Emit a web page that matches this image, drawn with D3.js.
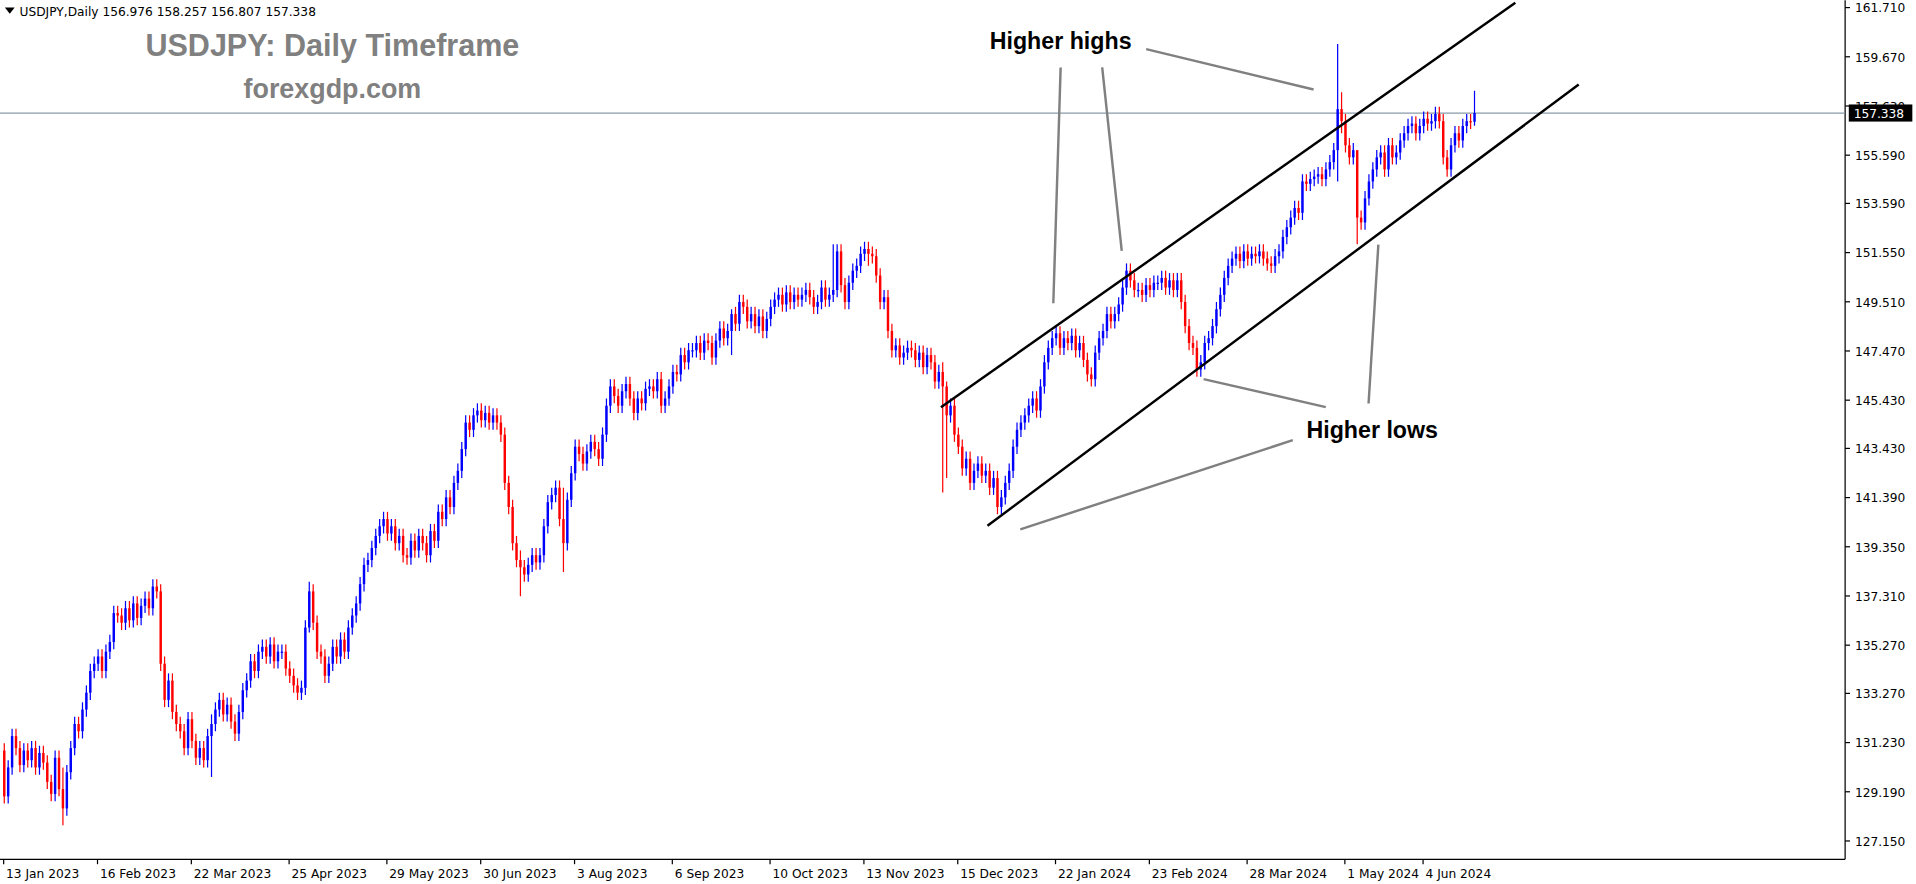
<!DOCTYPE html>
<html><head><meta charset="utf-8">
<script src="https://cdn.jsdelivr.net/npm/d3@7"></script>
<style>body{margin:0;background:#fff;overflow:hidden}</style>
</head><body><div id="chart"></div>
<script>
// daily closes, 13 Jan 2023 .. mid Jun 2024
var closes = [
129.0,130.2,131.5,131.0,130.3,130.9,130.5,131.0,130.2,130.8,
130.4,129.6,129.1,130.6,129.3,128.5,130.0,131.0,132.0,131.7,
132.6,133.3,134.2,134.5,134.8,134.2,135.0,135.4,136.6,136.5,
136.2,136.8,136.3,137.0,136.4,136.9,137.2,136.8,137.7,137.5,
134.5,133.0,133.8,132.5,132.0,131.7,131.0,132.2,131.3,130.6,
131.0,130.5,131.5,132.0,132.6,133.0,132.4,132.8,132.1,131.6,
132.5,133.4,133.8,134.6,134.2,135.0,135.2,134.8,135.3,134.6,
135.0,135.0,134.3,134.0,133.6,133.3,133.5,136.0,137.5,136.2,
135.0,134.8,134.0,134.5,135.2,134.8,135.5,135.0,136.0,136.5,
137.0,137.8,138.6,138.8,139.3,139.8,140.2,140.5,139.9,140.2,
139.5,139.8,139.0,138.9,139.6,139.2,139.8,139.5,139.0,140.0,
139.6,140.8,140.5,141.4,141.0,142.0,142.5,143.4,144.5,144.2,
144.8,145.0,144.6,144.9,144.5,144.8,144.5,144.0,142.0,141.0,
139.5,138.8,138.5,138.2,138.6,139.0,138.7,139.0,140.2,141.2,
141.5,141.8,140.5,139.5,141.3,142.4,143.5,143.2,142.8,143.3,
143.7,143.4,143.0,144.0,145.2,146.0,145.6,145.2,145.8,146.1,
145.5,144.9,145.5,145.3,145.9,146.0,145.8,146.3,145.2,145.5,
146.0,146.6,146.5,147.3,147.0,147.5,147.5,147.8,147.4,147.9,
147.8,147.2,147.9,148.4,148.0,148.3,149.0,148.6,149.5,149.3,
148.7,149.0,148.5,148.9,148.3,148.8,149.3,149.6,149.8,149.4,
149.9,149.5,149.8,149.6,149.8,150.0,149.7,149.3,149.5,150.1,
149.6,149.8,150.0,151.6,150.2,149.5,150.3,150.8,151.0,151.5,
151.7,151.5,151.4,150.6,149.5,149.7,148.3,147.5,147.7,147.2,
147.4,147.6,147.5,147.1,147.4,146.8,147.3,147.0,146.2,146.6,
146.0,144.8,145.2,144.0,143.5,142.6,143.0,142.0,142.5,142.8,
142.3,142.5,141.8,142.2,141.0,141.4,142.0,142.5,143.5,144.2,
144.5,144.8,145.2,145.5,145.0,146.0,147.0,147.6,148.0,148.2,
147.6,148.0,147.8,148.1,147.5,147.8,147.1,146.5,146.3,147.4,
148.0,148.3,149.0,148.7,149.0,149.4,150.1,150.8,150.4,150.0,
150.0,149.8,150.2,150.0,150.3,150.3,150.5,150.1,150.4,150.0,
150.4,149.5,148.5,147.8,147.6,146.7,147.0,147.8,148.0,148.5,
149.2,149.8,150.5,151.0,151.3,151.5,151.2,151.6,151.3,151.5,
151.4,151.6,151.3,151.1,151.0,151.4,151.6,152.2,152.6,153.0,
153.4,153.2,154.5,154.4,154.6,154.7,154.8,154.6,155.0,155.3,
155.8,157.5,157.0,156.0,155.5,155.8,153.0,152.8,153.8,154.5,
155.0,155.5,155.7,155.0,156.0,155.5,155.7,156.2,156.5,156.8,
156.9,156.5,156.8,157.1,156.9,157.0,157.3,157.0,155.5,155.0,
156.0,156.5,156.2,156.8,157.0,156.976,157.338
];
var firstOpen = 130.9;
// notable wicks: [index, high, low]
var wicks = [[15,130.2,127.8],[53,132.4,129.8],[78,137.9,135.8],[132,139.2,137.3],[143,141.8,138.3],
  [186,149.2,147.3],[212,151.9,149.5],[221,152.0,151.0],[240,147.0,141.6],[241,146.2,142.2],
  [341,160.2,154.5],[342,158.2,156.5],[346,155.6,151.9],[376,158.257,156.807]];
var priceTicks = [161.710,159.670,157.630,155.590,153.590,151.550,149.510,147.470,145.430,143.430,
  141.390,139.350,137.310,135.270,133.270,131.230,129.190,127.150];
var dateTicks = [[0,'13 Jan 2023'],[24,'16 Feb 2023'],[48,'22 Mar 2023'],[73,'25 Apr 2023'],[98,'29 May 2023'],
  [122,'30 Jun 2023'],[146,'3 Aug 2023'],[171,'6 Sep 2023'],[196,'10 Oct 2023'],[220,'13 Nov 2023'],
  [244,'15 Dec 2023'],[269,'22 Jan 2024'],[293,'23 Feb 2024'],[318,'28 Mar 2024'],[343,'1 May 2024'],[363,'4 Jun 2024']];
// channel lines [idx1, price1, idx2, price2]
var channel = [[239.7,145.14,386.6,161.91],[251.6,140.22,402.8,158.52]];
var lastPrice = 157.338;

var W = 1568, H = 723, plotR = 1510, plotB = 703;
var svg = d3.select('#chart').append('svg')
  .attr('width', 1916).attr('height', 884)
  .attr('viewBox', '0 0 ' + W + ' ' + H);

var x = d3.scaleLinear().domain([0, 1]).range([3, 6.2]);
var y = d3.scaleLinear().domain([161.71, 127.15]).range([6, 688]);

svg.append('defs').append('clipPath').attr('id', 'plot').append('rect')
  .attr('x', 0).attr('y', 0).attr('width', plotR).attr('height', plotB);

// axes frame
svg.append('line').attr('x1', plotR).attr('x2', plotR).attr('y1', 0).attr('y2', plotB).attr('stroke', '#000');
svg.append('line').attr('x1', 0).attr('x2', plotR).attr('y1', plotB).attr('y2', plotB).attr('stroke', '#000');

svg.selectAll('.pt').data(priceTicks).enter().append('g').each(function (d) {
  var g = d3.select(this);
  g.append('line').attr('x1', plotR).attr('x2', plotR + 4).attr('y1', y(d)).attr('y2', y(d)).attr('stroke', '#000');
  g.append('text').attr('x', plotR + 8).attr('y', y(d) + 4).text(d.toFixed(3))
    .attr('font-family', 'DejaVu Sans, sans-serif').attr('font-size', 10);
});
svg.selectAll('.dt').data(dateTicks).enter().append('g').each(function (d) {
  var g = d3.select(this);
  g.append('line').attr('x1', x(d[0])).attr('x2', x(d[0])).attr('y1', plotB).attr('y2', plotB + 4).attr('stroke', '#000');
  g.append('text').attr('x', x(d[0]) + 2).attr('y', plotB + 15).text(d[1])
    .attr('font-family', 'DejaVu Sans, sans-serif').attr('font-size', 10);
});

var plot = svg.append('g').attr('clip-path', 'url(#plot)');

// current price line
plot.append('line').attr('x1', 0).attr('x2', plotR).attr('y1', y(lastPrice)).attr('y2', y(lastPrice))
  .attr('stroke', '#8a9aa8').attr('stroke-width', 1);

var wickMap = {};
wicks.forEach(function (w) { wickMap[w[0]] = w; });
var candles = closes.map(function (c, i) {
  var o = i === 0 ? firstOpen : closes[i - 1];
  var w = wickMap[i];
  return { i: i, o: o, c: c,
    h: w ? w[1] : Math.max(o, c) + 0.3,
    l: w ? w[2] : Math.min(o, c) - 0.3 };
});
var cg = plot.append('g');
cg.selectAll('line.wick').data(candles).enter().append('line')
  .attr('x1', function (d) { return x(d.i) + 0.5; }).attr('x2', function (d) { return x(d.i) + 0.5; })
  .attr('y1', function (d) { return y(d.h); }).attr('y2', function (d) { return y(d.l); })
  .attr('stroke', function (d) { return d.c >= d.o ? '#0000ff' : '#ff0000'; }).attr('stroke-width', 1);
cg.selectAll('rect').data(candles).enter().append('rect')
  .attr('x', function (d) { return x(d.i) - 0.5; }).attr('width', 2)
  .attr('y', function (d) { return y(Math.max(d.o, d.c)); })
  .attr('height', function (d) { return Math.max(1, Math.abs(y(d.o) - y(d.c))); })
  .attr('fill', function (d) { return d.c >= d.o ? '#0000ff' : '#ff0000'; });

plot.selectAll('.ch').data(channel).enter().append('line')
  .attr('x1', function (d) { return x(d[0]); }).attr('y1', function (d) { return y(d[1]); })
  .attr('x2', function (d) { return x(d[2]); }).attr('y2', function (d) { return y(d[3]); })
  .attr('stroke', '#000').attr('stroke-width', 2);

// annotation pointers
var pointers = [[868,55,862,248],[902,55,918,205],[938,40,1075,73],
  [1085,333,985,310],[1120,330,1128,200],[1058,360,835,433]];
svg.selectAll('.ptr').data(pointers).enter().append('line')
  .attr('x1', function (d) { return d[0]; }).attr('y1', function (d) { return d[1]; })
  .attr('x2', function (d) { return d[2]; }).attr('y2', function (d) { return d[3]; })
  .attr('stroke', '#808080').attr('stroke-width', 2);

function txt(t, tx, ty, size, color, weight, anchor) {
  svg.append('text').attr('x', tx).attr('y', ty).text(t)
    .attr('font-family', 'Liberation Sans, Arial, sans-serif').attr('font-size', size)
    .attr('font-weight', weight).attr('fill', color).attr('text-anchor', anchor || 'start');
}
txt('Higher highs', 868, 40, 19, '#000', 'bold', 'middle');
txt('Higher lows', 1123, 358, 19, '#000', 'bold', 'middle');
txt('USDJPY: Daily Timeframe', 272, 46, 25, '#808080', 'bold', 'middle');
txt('forexgdp.com', 272, 80, 22, '#808080', 'bold', 'middle');

// header
svg.append('path').attr('d', 'M4,6 L12,6 L8,11 Z').attr('fill', '#000');
svg.append('text').attr('x', 16).attr('y', 13).text('USDJPY,Daily  156.976 158.257 156.807 157.338')
  .attr('font-family', 'DejaVu Sans, sans-serif').attr('font-size', 10);

// price label
svg.append('rect').attr('x', plotR + 3).attr('y', y(lastPrice) - 7).attr('width', 52).attr('height', 14)
  .attr('fill', '#000');
svg.append('text').attr('x', plotR + 7).attr('y', y(lastPrice) + 4).text(lastPrice.toFixed(3))
  .attr('font-family', 'DejaVu Sans, sans-serif').attr('font-size', 10).attr('fill', '#fff');
</script></body></html>
